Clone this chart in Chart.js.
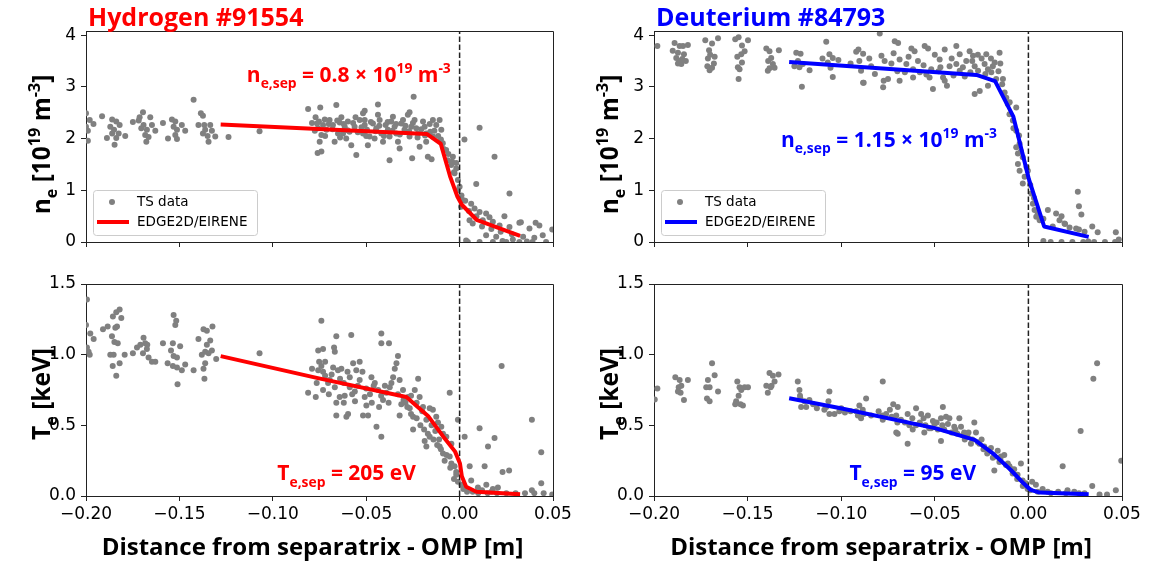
<!DOCTYPE html>
<html>
<head>
<meta charset="utf-8">
<script src="https://cdn.jsdelivr.net/npm/chart.js@4.4.1/dist/chart.umd.min.js"></script>
<style>
  html, body { margin: 0; padding: 0; background: #fff; }
  #wrap { position: relative; width: 1149px; height: 566px; }
  #wrap canvas { position: absolute; left: 0; top: 0; }
</style>
</head>
<body>
<div id="wrap">
  <canvas id="hNe" width="1149" height="566"></canvas>
  <canvas id="dNe" width="1149" height="566"></canvas>
  <canvas id="hTe" width="1149" height="566"></canvas>
  <canvas id="dTe" width="1149" height="566"></canvas>
</div>
<script>
"use strict";
// ---- data: [distance from separatrix (m), value] ----
var xTicks = [-0.2, -0.15, -0.1, -0.05, 0, 0.05];
var neTicks = [0, 1, 2, 3, 4];
var teTicks = [0, 0.5, 1.0, 1.5];

// Hydrogen #91554, ne (1e19 m^-3)
var hNeTS = [
  [-0.200,2.49],[-0.198,2.36],[-0.200,2.23],[-0.196,2.28],[-0.199,2.15],[-0.199,1.96],
  [-0.1914,2.43],[-0.186,2.37],[-0.1838,2.33],[-0.187,2.23],[-0.182,2.26],[-0.185,2.17],[-0.1825,2.10],[-0.1838,2.01],[-0.179,2.05],[-0.1888,2.01],[-0.1847,1.88],[-0.186,2.10],
  [-0.1749,2.32],[-0.1718,2.35],[-0.1695,2.51],[-0.1713,2.41],[-0.1656,2.41],[-0.1692,2.26],[-0.1647,2.26],[-0.1674,2.17],[-0.1629,2.15],[-0.1683,2.07],[-0.1665,2.03],[-0.1677,1.94],[-0.1704,2.20],
  [-0.1588,2.30],[-0.154,2.37],[-0.1522,2.33],[-0.1531,2.23],[-0.1487,2.26],[-0.1513,2.17],[-0.1469,2.15],[-0.1561,2.00],[-0.1522,2.07],[-0.1513,1.99],
  [-0.1424,2.75],[-0.1385,2.49],[-0.1374,2.44],[-0.1398,2.26],[-0.1367,2.26],[-0.1335,2.26],[-0.1362,2.17],[-0.1326,2.15],[-0.1349,2.05],[-0.1344,1.94],[-0.1308,2.04],[-0.1374,2.10],
  [-0.1237,2.03],[-0.1071,2.14],
  [-0.0811,2.57],[-0.0746,2.60],[-0.0660,2.65],[-0.0437,2.66],[-0.0246,2.81],[-0.0508,2.54],[-0.0268,2.51],
  [-0.0771,2.41],[-0.0753,2.33],[-0.0731,2.26],[-0.0758,2.20],[-0.0713,2.17],[-0.0740,2.07],[-0.0749,1.94],[-0.0740,1.75],[-0.0760,1.72],
  [-0.0696,2.36],[-0.0678,2.26],[-0.0651,2.10],[-0.0669,1.94],[-0.0633,2.41],[-0.0615,2.23],[-0.0598,2.33],[-0.0589,2.13],[-0.0607,2.00],
  [-0.0580,1.87],[-0.0553,1.68],[-0.0562,2.23],[-0.0535,2.36],[-0.0517,2.49],[-0.0508,2.26],[-0.0496,2.17],[-0.0482,2.04],[-0.0491,1.87],
  [-0.0464,2.29],[-0.0446,2.20],[-0.0428,2.36],[-0.0419,2.10],[-0.0410,1.94],[-0.0396,2.26],[-0.0384,2.17],[-0.0375,1.58],[-0.0366,2.33],
  [-0.0348,2.23],[-0.0339,2.10],[-0.0330,1.94],[-0.0321,1.81],[-0.0312,2.29],[-0.0295,2.17],[-0.0277,2.46],[-0.0268,2.04],[-0.0254,1.62],
  [-0.0241,2.36],[-0.0232,2.20],[-0.0223,2.10],[-0.0214,1.84],[-0.0196,2.33],[-0.0187,2.23],[-0.0179,1.94],[-0.0170,1.65],[-0.0157,2.13],
  [-0.0143,2.04],[-0.0125,2.26],[-0.0107,2.36],[-0.0098,2.17],[-0.0090,1.91],[-0.0072,1.78],[-0.0063,1.58],[-0.0045,1.49],[-0.0036,1.65],
  [-0.0018,1.42],[-0.0009,1.20],[0.0000,1.07],[-0.0027,1.33],[0.0017,0.81],[0.0008,0.68],[0.0026,1.98],[-0.0018,1.53],[-0.0150,1.60],
  [-0.0763,2.29],[-0.0722,2.37],[-0.0642,2.31],[-0.0557,2.41],[-0.0437,2.46],[-0.0357,2.42],[-0.0303,2.36],[-0.0179,2.10],[-0.0143,2.36],
  [-0.0259,2.23],[-0.0517,2.10],[-0.0624,2.10],[-0.0455,2.00],[-0.0375,2.04],[-0.0508,2.36],
  [-0.0790,2.30],[-0.0775,2.15],[-0.0720,2.05],[-0.0700,2.28],[-0.0680,2.18],[-0.0655,2.35],[-0.0640,2.02],[-0.0620,2.28],[-0.0600,2.16],
  [-0.0570,2.30],[-0.0545,2.12],[-0.0525,2.22],[-0.0500,2.05],[-0.0475,2.32],[-0.0450,2.14],[-0.0430,2.25],[-0.0405,2.05],[-0.0385,2.32],
  [-0.0360,2.15],[-0.0340,2.28],[-0.0320,2.08],[-0.0290,2.25],[-0.0270,2.14],[-0.0250,2.30],[-0.0225,2.02],[-0.0205,2.18],[-0.0185,2.06],
  [-0.0160,2.28],[-0.0135,2.15],[-0.0115,2.05],[-0.0100,1.98],[-0.0085,1.80],[-0.0060,1.70],[-0.0040,1.55],[-0.0030,1.35],[-0.0010,1.00],
  [0.0010,0.90],[0.0030,0.80],[0.0050,0.60],[0.0090,0.50],[0.0120,0.30],[0.0170,0.25],[0.0220,0.20],[0.0280,0.15],[0.0340,0.10],[0.0400,0.08],
  [0.0107,2.21],[0.0187,1.65],[0.0089,1.12],[0.0267,0.94],[0.0062,0.74],[0.0080,0.65],[0.0107,0.58],[0.0142,0.55],[0.0160,0.48],
  [0.0053,0.42],[0.0070,0.36],[0.0124,0.42],[0.0178,0.39],[0.0214,0.32],[0.0240,0.50],[0.0267,0.29],[0.0320,0.37],[0.0374,0.26],
  [0.0427,0.32],[0.0445,0.13],[0.0142,0.13],[0.0196,0.10],[0.0285,0.05],[0.0035,0.03],[0.0407,0.37],[0.0496,0.24],[0.0328,0.38],
  [0.0044,0.0],[0.0107,0.0],[0.0178,0.0],[0.0250,0.0],[0.0320,0.0],[0.0390,0.0],[0.0463,0.0],[0.0230,0.02],[0.0360,0.01]
];
var hNeModel = [[-0.1279,2.27],[-0.0176,2.09],[-0.0101,1.90],[-0.0051,1.27],[-0.0012,0.88],[0.0012,0.72],[0.0091,0.43],[0.0324,0.12]];

// Deuterium #84793, ne (1e19 m^-3)
var dNeTS = [
  [-0.1982,3.79],
  [-0.189,3.85],[-0.1863,3.79],[-0.1845,3.79],[-0.1819,3.81],[-0.1872,3.66],[-0.184,3.63],[-0.1881,3.56],[-0.1863,3.50],[-0.1854,3.44],[-0.1872,3.45],[-0.1849,3.54],
  [-0.1726,3.90],[-0.169,3.84],[-0.1658,3.94],[-0.1706,3.71],[-0.1712,3.55],[-0.1676,3.58],[-0.1715,3.40],[-0.1703,3.32],[-0.169,3.37],
  [-0.1566,3.92],[-0.1548,3.96],[-0.1498,3.90],[-0.1516,3.69],[-0.1534,3.63],[-0.1555,3.58],[-0.1530,3.47],[-0.1552,3.38],[-0.1543,3.34],[-0.1548,3.15],
  [-0.1400,3.74],[-0.1383,3.69],[-0.1333,3.71],[-0.1374,3.56],[-0.1365,3.44],[-0.1383,3.36],[-0.1356,3.37],[-0.1392,3.31],
  [-0.1240,3.66],[-0.1217,3.64],[-0.1231,3.50],[-0.1205,3.44],[-0.1223,3.38],[-0.1169,3.32],[-0.1210,3.00],
  [-0.1080,3.87],[-0.1063,3.63],[-0.1045,3.56],[-0.1015,3.52],[-0.1072,3.47],[-0.1057,3.37],[-0.1045,3.19],
  [-0.0908,3.72],[-0.0920,3.68],[-0.0903,3.50],[-0.0894,3.31],[-0.0880,3.08],
  [-0.0794,4.03],[-0.0714,3.88],[-0.0696,3.85],[-0.0625,3.74],[-0.0608,3.69],[-0.0554,3.79],[-0.0536,3.74],[-0.0474,3.53],[-0.0447,3.72],
  [-0.0385,3.79],[-0.0367,3.63],[-0.0314,3.69],[-0.0296,3.60],[-0.0225,3.63],[-0.0154,3.66],[-0.0883,3.64],
  [-0.0785,3.60],[-0.0768,3.50],[-0.0732,3.45],[-0.0688,3.53],[-0.0652,3.44],[-0.0616,3.34],[-0.0590,3.50],[-0.0545,3.24],[-0.0528,3.18],
  [-0.0510,2.96],[-0.0456,3.18],[-0.0435,3.02],[-0.0421,3.40],[-0.0385,3.44],[-0.0367,3.31],[-0.0332,3.50],[-0.0287,3.40],[-0.0269,3.31],
  [-0.0260,2.92],[-0.0287,2.86],[-0.0234,3.44],[-0.0216,3.34],[-0.0198,3.28],[-0.0180,3.47],[-0.0172,3.15],[-0.0216,3.02],
  [-0.0773,3.12],[-0.0750,3.15],[-0.0688,3.12],[-0.0883,3.08],[-0.0776,2.99],[-0.0616,3.18],[-0.0519,3.34],[-0.0447,3.12],
  [-0.0840,3.40],[-0.0700,3.30],[-0.0580,3.28],[-0.0480,3.30],[-0.0400,3.22],[-0.0340,3.20],[-0.0300,3.50],[-0.0250,3.55],[-0.0190,3.40],[-0.0160,3.30],
  [-0.1900,3.70],[-0.1830,3.50],[-0.1700,3.62],[-0.1680,3.45],[-0.1530,3.80],[-0.1390,3.50],[-0.1250,3.40],[-0.1100,3.55],[-0.0950,3.45],
  [-0.0850,3.55],[-0.0820,3.25],[-0.0720,3.65],[-0.0660,3.28],[-0.0640,3.58],[-0.0560,3.42],[-0.0500,3.62],[-0.0470,3.38],[-0.0410,3.55],
  [-0.0350,3.38],[-0.0310,3.28],[-0.0270,3.62],[-0.0230,3.25],[-0.0200,3.55],[-0.0150,3.45],
  [-0.0136,3.15],[-0.0127,2.89],[-0.0118,2.79],[-0.0110,2.67],[-0.0065,2.60],[-0.0101,2.47],[-0.0083,2.35],[-0.0065,2.15],[-0.0050,2.06],
  [-0.0047,1.90],[-0.0065,1.83],[-0.0056,1.71],[-0.0030,1.64],[-0.0056,1.51],[-0.0047,1.38],[-0.0020,1.26],[-0.0003,1.38],[-0.0030,1.13],
  [0.0015,0.94],[0.0024,0.74],[0.0033,0.62],[0.0042,0.49],[0.0060,0.42],
  [-0.0140,3.05],[-0.0100,2.70],[-0.0080,2.20],[-0.0040,1.75],[-0.0010,1.45],[0.0010,1.10],[0.0030,0.85],[0.0050,0.55],[0.0080,0.45],
  [0.0130,0.30],[0.0220,0.28],[0.0300,0.20],
  [0.0104,0.62],[0.0148,0.55],[0.0166,0.42],[0.0193,0.36],[0.0264,0.97],[0.0255,0.26],[0.0177,0.50],[0.0196,0.35],[0.0270,0.69],
  [0.0283,0.53],[0.0270,0.24],[0.0341,0.30],[0.0370,0.19],[0.0467,0.19],[0.0483,0.05],
  [0.0119,0.0],[0.0177,0.0],[0.0235,0.0],[0.0293,0.0],[0.0351,0.0],[0.0409,0.0],[0.0463,0.0],[0.0080,0.02],[0.0320,0.01]
];
var dNeModel = [[-0.1278,3.48],[-0.0278,3.23],[-0.0178,3.11],[-0.0081,2.43],[0.0003,1.21],[0.0084,0.30],[0.0322,0.10]];

// Hydrogen #91554, Te (keV)
var hTeTS = [
  [-0.1995,1.39],[-0.2000,1.21],[-0.1977,1.15],[-0.1959,1.11],[-0.1995,1.05],[-0.1986,1.02],[-0.1980,1.00],
  [-0.1909,1.18],[-0.1884,1.20],[-0.1856,1.27],[-0.1838,1.30],[-0.1820,1.32],[-0.1811,1.26],[-0.1843,1.19],[-0.1834,1.20],[-0.1861,1.13],
  [-0.1848,1.09],[-0.1830,1.08],[-0.1870,1.00],[-0.1852,1.00],[-0.1857,0.92],[-0.1820,0.94],[-0.1838,0.85],[-0.1793,1.00],
  [-0.1749,1.01],[-0.1727,1.05],[-0.1709,1.07],[-0.1692,1.12],[-0.1683,1.08],[-0.1674,1.04],[-0.1695,1.01],[-0.1665,0.98],[-0.1647,0.95],[-0.1629,0.95],[-0.1672,1.07],
  [-0.1588,1.08],[-0.1531,1.28],[-0.1517,1.24],[-0.1522,1.21],[-0.1535,1.08],[-0.1496,1.06],[-0.1545,1.03],[-0.1531,0.99],[-0.1513,0.98],
  [-0.1563,0.94],[-0.1535,0.92],[-0.1513,0.91],[-0.1487,0.89],[-0.1469,0.93],[-0.1510,0.79],
  [-0.1424,0.89],[-0.1398,1.11],[-0.1371,1.18],[-0.1353,1.17],[-0.1323,1.20],[-0.1335,1.10],[-0.1353,1.07],[-0.1362,1.02],[-0.1380,1.00],
  [-0.1344,1.01],[-0.1362,0.94],[-0.1371,0.90],[-0.1366,0.83],[-0.1303,0.97],[-0.1326,1.03],
  [-0.1071,1.01],
  [-0.0740,1.24],[-0.0660,1.13],[-0.0580,1.14],[-0.0419,1.15],[-0.0419,1.08],[-0.0378,1.08],[-0.0757,1.03],[-0.0731,1.04],[-0.0672,1.05],[-0.0668,1.02],
  [-0.0752,0.95],[-0.0740,0.92],[-0.0757,0.89],[-0.0731,0.88],[-0.0677,0.91],[-0.0651,0.89],[-0.0633,0.90],[-0.0570,0.94],[-0.0535,0.95],
  [-0.0553,0.89],[-0.0588,0.84],[-0.0695,0.82],[-0.0811,0.73],[-0.0770,0.70],[-0.0731,0.75],[-0.0704,0.80],[-0.0668,0.77],[-0.0642,0.70],
  [-0.0660,0.66],[-0.0615,0.71],[-0.0588,0.77],[-0.0561,0.74],[-0.0535,0.82],[-0.0508,0.70],[-0.0499,0.64],[-0.0472,0.84],[-0.0454,0.80],
  [-0.0436,0.75],[-0.0431,0.63],[-0.0410,0.68],[-0.0392,0.73],[-0.0374,0.77],[-0.0347,0.90],[-0.0330,0.99],[-0.0338,0.94],[-0.0356,0.84],
  [-0.0321,0.82],[-0.0303,0.75],[-0.0276,0.70],[-0.0312,0.65],[-0.0267,0.62],[-0.0240,0.75],[-0.0222,0.83],[-0.0214,0.70],[-0.0196,0.63],
  [-0.0249,0.56],[-0.0249,0.47],[-0.0445,0.49],[-0.0419,0.42],
  [-0.0660,0.57],[-0.0606,0.56],[-0.0597,0.58],[-0.0517,0.57],[-0.0490,0.57],[-0.0321,0.57],[-0.0178,0.54],[-0.0160,0.62],[-0.0143,0.61],
  [-0.0125,0.56],[-0.0116,0.52],[-0.0098,0.49],[-0.0089,0.44],[-0.0071,0.42],[-0.0053,0.73],[-0.0187,0.39],[-0.0178,0.35],[-0.0160,0.42],
  [-0.0107,0.35],[-0.0089,0.30],[-0.0080,0.25],[-0.0053,0.28],[-0.0044,0.23],[-0.0027,0.21],[-0.0018,0.17],[-0.0009,0.54],[-0.0018,0.15],
  [-0.0009,0.10],[-0.0044,0.37],
  [-0.0720,0.85],[-0.0620,0.80],[-0.0560,0.67],[-0.0480,0.72],[-0.0400,0.78],[-0.0290,0.66],[-0.0260,0.71],[-0.0230,0.66],[-0.0200,0.60],
  [-0.0150,0.50],[-0.0130,0.46],[-0.0110,0.40],
  [-0.0790,0.90],[-0.0765,0.80],[-0.0720,0.95],[-0.0700,0.72],[-0.0685,0.86],[-0.0640,0.83],[-0.0620,0.66],[-0.0600,0.88],[-0.0575,0.72],
  [-0.0545,0.78],[-0.0520,0.88],[-0.0500,0.76],[-0.0470,0.66],[-0.0460,0.78],[-0.0420,0.71],[-0.0380,0.66],[-0.0365,0.80],[-0.0330,0.72],
  [-0.0300,0.68],[-0.0280,0.63],[-0.0260,0.58],[-0.0230,0.55],[-0.0210,0.50],[-0.0190,0.47],[-0.0170,0.44],[-0.0140,0.40],[-0.0120,0.36],
  [-0.0100,0.33],[-0.0070,0.29],[-0.0050,0.20],[-0.0030,0.12],[0.0010,0.08],[0.0070,0.03],[0.0120,0.04],[0.0170,0.03],
  [0.0027,0.42],[0.0107,0.48],[0.0152,0.35],[0.0187,0.41],[0.0054,0.21],[0.0134,0.21],[0.0062,0.11],[0.0098,0.06],[0.0143,0.08],
  [0.0178,0.05],[0.0205,0.06],[0.0225,0.92],[0.0387,0.54],[0.0437,0.31],[0.0230,0.17],[0.0265,0.18],[0.0437,0.09],[0.0387,0.04],[0.0496,0.01],
  [0.0100,0.02],[0.0150,0.02],[0.0200,0.02],[0.0250,0.02],[0.0300,0.02],[0.0350,0.02],[0.0400,0.02],[0.0450,0.02],[0.0020,0.05],[0.0040,0.03]
];
var hTeModel = [[-0.1279,0.99],[-0.0759,0.834],[-0.0285,0.70],[-0.0166,0.562],[-0.0087,0.42],[-0.0024,0.314],[0.0002,0.23],[0.0012,0.14],[0.0035,0.065],[0.0090,0.03],[0.0324,0.012]];

// Deuterium #84793, Te (keV)
var dTeTS = [
  [-0.1996,0.683],[-0.1982,0.76],
  [-0.1886,0.84],[-0.1863,0.82],[-0.1819,0.82],[-0.1854,0.78],[-0.1872,0.74],[-0.1858,0.73],[-0.1840,0.68],[-0.1868,0.77],
  [-0.1690,0.94],[-0.1712,0.82],[-0.1676,0.855],[-0.1721,0.77],[-0.1703,0.77],[-0.1658,0.74],[-0.1717,0.69],[-0.1703,0.67],
  [-0.1555,0.81],[-0.1543,0.77],[-0.1516,0.77],[-0.1498,0.77],[-0.1534,0.75],[-0.1548,0.71],[-0.1561,0.67],[-0.1538,0.65],[-0.1566,0.65],[-0.1525,0.64],
  [-0.1383,0.87],[-0.1365,0.85],[-0.1335,0.86],[-0.1356,0.81],[-0.1400,0.78],[-0.1377,0.77],[-0.1392,0.73],[-0.1372,0.78],
  [-0.1232,0.81],[-0.1223,0.75],[-0.1218,0.69],[-0.1196,0.67],[-0.1214,0.63],[-0.1187,0.63],[-0.1170,0.68],
  [-0.1063,0.74],[-0.1068,0.67],[-0.1090,0.61],[-0.1063,0.58],[-0.1036,0.58],[-0.1010,0.60],
  [-0.0867,0.69],[-0.0903,0.64],[-0.0885,0.61],[-0.0911,0.57],[-0.0894,0.55],
  [-0.0778,0.81],
  [-0.0740,0.61],[-0.0722,0.65],[-0.0698,0.63],[-0.0706,0.57],[-0.0778,0.54],[-0.0706,0.45],[-0.0698,0.44],[-0.0645,0.37],[-0.0681,0.54],
  [-0.0645,0.58],[-0.0636,0.50],[-0.0618,0.47],
  [-0.0600,0.62],[-0.0573,0.58],[-0.0537,0.57],[-0.0502,0.51],[-0.0457,0.63],[-0.0467,0.55],[-0.0440,0.56],[-0.0467,0.39],[-0.0556,0.45],
  [-0.0520,0.48],[-0.0484,0.47],
  [-0.0422,0.55],[-0.0396,0.49],[-0.0369,0.55],[-0.0360,0.49],[-0.0343,0.45],[-0.0325,0.42],[-0.0289,0.52],[-0.0280,0.45],[-0.0307,0.37],[-0.0262,0.37],
  [-0.0236,0.35],[-0.0200,0.34],[-0.0164,0.32],[-0.0147,0.28],[-0.0129,0.29],[-0.0155,0.24],[-0.0110,0.23],[-0.0101,0.21],[-0.0084,0.16],
  [-0.0076,0.19],[-0.0058,0.15],[-0.0040,0.23],[-0.0031,0.11],[-0.0013,0.09],[-0.0004,0.05],[-0.0182,0.18],
  [-0.0800,0.60],[-0.0760,0.58],[-0.0660,0.52],[-0.0580,0.52],[-0.0550,0.50],[-0.0510,0.53],[-0.0450,0.47],[-0.0410,0.45],[-0.0380,0.44],
  [-0.0340,0.40],[-0.0250,0.40],[-0.0220,0.30],[-0.0190,0.27],[-0.1130,0.62],[-0.0950,0.60],
  [-0.1220,0.71],[-0.1150,0.65],[-0.1080,0.63],[-0.1000,0.62],[-0.0980,0.59],[-0.0920,0.60],[-0.0880,0.58],[-0.0840,0.57],[-0.0780,0.57],
  [-0.0730,0.56],[-0.0700,0.52],[-0.0620,0.55],[-0.0600,0.50],[-0.0560,0.55],[-0.0530,0.48],[-0.0490,0.52],[-0.0460,0.50],[-0.0430,0.51],
  [-0.0390,0.47],[-0.0350,0.43],[-0.0320,0.45],[-0.0300,0.40],[-0.0270,0.38],[-0.0240,0.33],[-0.0210,0.32],[-0.0180,0.28],[-0.0150,0.26],
  [-0.0120,0.22],[-0.0090,0.19],[-0.0060,0.12],[-0.0030,0.07],[0.0010,0.04],[0.0050,0.03],[0.0120,0.02],[0.0200,0.02],[0.0270,0.02],
  [0.0076,0.05],[0.0183,0.21],[0.0103,0.03],[0.0159,0.03],[0.0209,0.04],[0.0245,0.03],[0.0279,0.46],[0.0347,0.83],[0.0367,0.94],
  [0.0341,0.07],[0.0467,0.04],[0.0496,0.25],[0.0300,0.02],[0.0380,0.01],[0.0420,0.01],[0.0040,0.08],[0.0020,0.10]
];
var dTeModel = [[-0.1278,0.692],[-0.1003,0.621],[-0.05,0.48],[-0.0287,0.397],[-0.019,0.302],[-0.0094,0.184],[-0.0026,0.09],[0.0012,0.043],[0.006,0.024],[0.0322,0.012]];

// ---- drawing helpers ----
var W = 1149, H = 566;
var AX = '#222';
var BOLD = '"Open Sans", "DejaVu Sans", sans-serif';
var TICKF = '"DejaVu Sans", sans-serif';

function pts(arr) { return arr.map(function (p) { return { x: p[0], y: p[1] }; }); }

// parts: [text, kind] with kind '' | 'sub' | 'sup'
function richWidth(ctx, parts, size) {
  var w = 0;
  parts.forEach(function (p) {
    ctx.font = 'bold ' + (p[1] ? size * 0.66 : size) + 'px ' + BOLD;
    w += ctx.measureText(p[0]).width;
  });
  return w;
}
function drawRich(ctx, parts, x, y, size, color, align) {
  var w = richWidth(ctx, parts, size);
  var cx = align === 'center' ? x - w / 2 : x;
  ctx.fillStyle = color;
  ctx.textBaseline = 'alphabetic';
  ctx.textAlign = 'left';
  parts.forEach(function (p) {
    var s = p[1] ? size * 0.66 : size;
    var dy = p[1] === 'sub' ? size * 0.3 : (p[1] === 'sup' ? -size * 0.42 : 0);
    ctx.font = 'bold ' + s + 'px ' + BOLD;
    ctx.fillText(p[0], cx, y + dy);
    cx += ctx.measureText(p[0]).width;
  });
}

function makeDecor(o) {
  return {
    id: 'decor',
    afterDraw: function (chart) {
      var ctx = chart.ctx, a = chart.chartArea;
      var sx = chart.scales.x, sy = chart.scales.y;
      ctx.save();
      // top and right spines
      ctx.strokeStyle = AX;
      ctx.lineWidth = 1;
      ctx.beginPath();
      ctx.moveTo(Math.round(a.left) + 0.5, Math.round(a.top) + 0.5);
      ctx.lineTo(Math.round(a.right) + 0.5, Math.round(a.top) + 0.5);
      ctx.lineTo(Math.round(a.right) + 0.5, Math.round(a.bottom) + 0.5);
      ctx.stroke();

      // panel title
      if (o.title) {
        ctx.font = 'bold 25px ' + BOLD;
        ctx.fillStyle = o.color;
        ctx.textAlign = 'left';
        ctx.textBaseline = 'alphabetic';
        ctx.fillText(o.title, a.left + 2, 26);
      }
      // y label (rotated)
      ctx.save();
      ctx.translate(a.left - 36, (a.top + a.bottom) / 2 + o.ylabelShift);
      ctx.rotate(-Math.PI / 2);
      drawRich(ctx, o.ylabel, 0, 0, 24.5, '#000', 'center');
      ctx.restore();
      // x label
      if (o.xlabel) {
        drawRich(ctx, [[o.xlabel, '']], (a.left + a.right) / 2 - 7, 555, 24, '#000', 'center');
      }
      // annotation
      drawRich(ctx, o.note, sx.getPixelForValue(o.noteAt[0]), sy.getPixelForValue(o.noteAt[1]), 21, o.color, 'left');

      // legend
      if (o.legend) {
        var ds = chart.data.datasets;
        var lx = a.left + 7, ly = a.bottom - 52, lw = 164, lh = 45;
        ctx.beginPath();
        ctx.roundRect(lx + 0.5, ly + 0.5, lw, lh, 3);
        ctx.fillStyle = 'rgba(255,255,255,0.8)';
        ctx.fill();
        ctx.strokeStyle = '#cccccc';
        ctx.stroke();
        ctx.fillStyle = ds[0].backgroundColor;
        ctx.beginPath();
        ctx.arc(lx + 19, ly + 12, 3, 0, Math.PI * 2);
        ctx.fill();
        ctx.strokeStyle = ds[2].borderColor;
        ctx.lineWidth = 4;
        ctx.beginPath();
        ctx.moveTo(lx + 4, ly + 32);
        ctx.lineTo(lx + 36, ly + 32);
        ctx.stroke();
        ctx.font = '13.5px ' + TICKF;
        ctx.fillStyle = '#000';
        ctx.textBaseline = 'middle';
        ctx.textAlign = 'left';
        ctx.fillText(ds[0].label, lx + 44, ly + 12);
        ctx.fillText(ds[2].label, lx + 44, ly + 32);
      }
      ctx.restore();
    }
  };
}

function fmtX(v) {
  return (v < 0 ? '\u2212' : '') + Math.abs(v).toFixed(2);
}

function makePanel(id, o) {
  var YW = 50, XH = 30;
  var box = o.box;
  return new Chart(document.getElementById(id), {
    type: 'scatter',
    data: {
      datasets: [{
        label: 'TS data',
        data: pts(o.ts),
        backgroundColor: '#808080',
        pointRadius: 3,
        pointBorderWidth: 0,
        clip: 0,
        order: 3
      }, {
        label: 'separatrix',
        data: [{ x: 0, y: 0 }, { x: 0, y: o.yMax }],
        showLine: true,
        borderColor: AX,
        borderWidth: 1.5,
        borderDash: [5.5, 2.5],
        pointRadius: 0,
        order: 2
      }, {
        label: 'EDGE2D/EIRENE',
        data: pts(o.model),
        showLine: true,
        borderColor: o.color,
        borderWidth: 4,
        borderJoinStyle: 'round',
        pointRadius: 0,
        order: 1
      }]
    },
    options: {
      responsive: false,
      animation: false,
      events: [],
      layout: { padding: { left: box[0] - YW, top: box[1], right: W - box[2], bottom: H - box[3] - XH } },
      plugins: { legend: { display: false }, tooltip: { enabled: false } },
      scales: {
        x: {
          type: 'linear', min: -0.2, max: 0.05,
          afterFit: function (s) { s.height = XH; },
          afterBuildTicks: function (s) { s.ticks = xTicks.map(function (v) { return { value: v }; }); },
          grid: { drawOnChartArea: false, tickLength: 5, color: AX, lineWidth: 1 },
          border: { display: true, color: AX, width: 1 },
          ticks: {
            autoSkip: false, maxRotation: 0, padding: 3, color: '#000',
            font: { family: TICKF, size: 17 },
            callback: function (v) { return o.xlabel ? fmtX(v) : ''; }
          }
        },
        y: {
          type: 'linear', min: 0, max: o.yMax,
          afterFit: function (s) { s.width = YW; },
          afterBuildTicks: function (s) { s.ticks = o.yTicks.map(function (v) { return { value: v }; }); },
          grid: { drawOnChartArea: false, tickLength: 5, color: AX, lineWidth: 1 },
          border: { display: true, color: AX, width: 1 },
          ticks: {
            padding: 5, color: '#000',
            font: { family: TICKF, size: 17 },
            callback: function (v) { return o.yFmt(v); }
          }
        }
      }
    },
    plugins: [makeDecor(o)]
  });
}

var neLabel = [['n', ''], ['e', 'sub'], [' [10', ''], ['19', 'sup'], [' m', ''], ['-3', 'sup'], [']', '']];
var teLabel = [['T', ''], ['e', 'sub'], [' [keV]', '']];
var xLabel = 'Distance from separatrix - OMP [m]';
function neFmt(v) { return String(v); }
function teFmt(v) { return v.toFixed(1); }

makePanel('hNe', {
  box: [86, 31, 553, 242], yMax: 4.08, yTicks: neTicks, yFmt: neFmt,
  ts: hNeTS, model: hNeModel, color: '#ff0000',
  title: 'Hydrogen #91554', ylabel: neLabel, ylabelShift: 8, legend: true,
  note: [['n', ''], ['e,sep', 'sub'], [' = 0.8 \u00d7 10', ''], ['19', 'sup'], [' m', ''], ['-3', 'sup']],
  noteAt: [-0.1139, 3.10]
});
makePanel('dNe', {
  box: [654, 31, 1122, 242], yMax: 4.08, yTicks: neTicks, yFmt: neFmt,
  ts: dNeTS, model: dNeModel, color: '#0000ff',
  title: 'Deuterium #84793', ylabel: neLabel, ylabelShift: 8, legend: true,
  note: [['n', ''], ['e,sep', 'sub'], [' = 1.15 \u00d7 10', ''], ['19', 'sup'], [' m', ''], ['-3', 'sup']],
  noteAt: [-0.1322, 1.84]
});
makePanel('hTe', {
  box: [86, 284, 553, 496], yMax: 1.5, yTicks: teTicks, yFmt: teFmt,
  ts: hTeTS, model: hTeModel, color: '#ff0000',
  ylabel: teLabel, ylabelShift: 4, xlabel: xLabel,
  note: [['T', ''], ['e,sep', 'sub'], [' = 205 eV', '']],
  noteAt: [-0.0976, 0.111]
});
makePanel('dTe', {
  box: [654, 284, 1122, 496], yMax: 1.5, yTicks: teTicks, yFmt: teFmt,
  ts: dTeTS, model: dTeModel, color: '#0000ff',
  ylabel: teLabel, ylabelShift: 4, xlabel: xLabel,
  note: [['T', ''], ['e,sep', 'sub'], [' = 95 eV', '']],
  noteAt: [-0.0956, 0.111]
});
</script>
</body>
</html>
